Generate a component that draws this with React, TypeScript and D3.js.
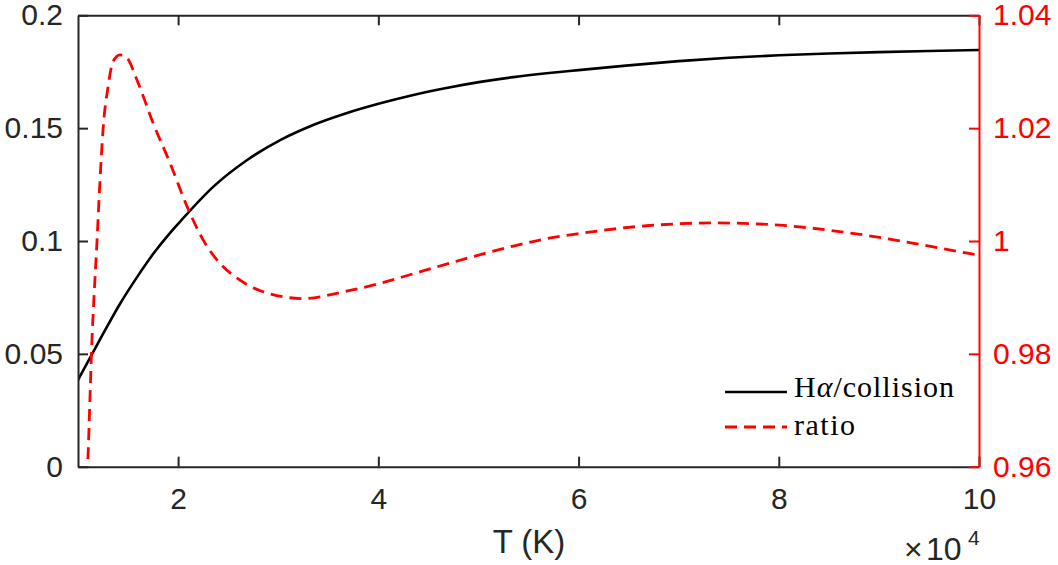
import React, { useEffect, useRef } from 'react';
import * as d3 from 'd3';

// T in units of 1e4 K
const tBlack = [1.0, 1.12, 1.25, 1.42, 1.59, 1.75, 1.92, 2.02, 2.35, 2.69, 3.02, 3.35, 3.68, 4.02, 4.35, 4.68, 5.02, 5.35, 5.68, 6.0, 6.5, 7.0, 7.5, 8.0, 8.5, 9.0, 9.5, 10.0];
const haCollision = [0.0384, 0.0482, 0.0588, 0.0722, 0.084, 0.0942, 0.1036, 0.1086, 0.124, 0.1359, 0.1447, 0.1514, 0.1566, 0.161, 0.1647, 0.1678, 0.1705, 0.1726, 0.1743, 0.1757, 0.1778, 0.1797, 0.1812, 0.1823, 0.1831, 0.1837, 0.1842, 0.1846];

const tRed = [1.09, 1.1, 1.12, 1.137, 1.16, 1.187, 1.22, 1.25, 1.3, 1.35, 1.42, 1.49, 1.59, 1.75, 1.92, 2.09, 2.25, 2.42, 2.59, 2.85, 3.25, 3.68, 4.02, 4.35, 4.68, 5.02, 5.35, 5.68, 6.0, 6.68, 7.35, 8.01, 8.68, 9.35, 9.9, 10.0];
const ratio = [0.958, 0.9618, 0.9724, 0.9813, 0.9901, 0.999, 1.0108, 1.0197, 1.0273, 1.0318, 1.033, 1.0324, 1.0285, 1.0209, 1.0138, 1.0061, 1.0002, 0.996, 0.9934, 0.991, 0.9898, 0.9911, 0.9925, 0.9942, 0.9959, 0.9976, 0.9991, 1.0004, 1.0013, 1.0027, 1.0032, 1.0028, 1.0015, 0.9996, 0.9978, 0.9975];

const xTicks = [2, 4, 6, 8, 10];
const leftTicks = [0, 0.05, 0.1, 0.15, 0.2];
const rightTicks = [0.96, 0.98, 1, 1.02, 1.04];

const W = 1058;
const H = 565;
const AXIS = '#262626';
const FONT = '"Liberation Sans", Arial, Helvetica, sans-serif';

const App: React.FC = () => {
  const ref = useRef<SVGSVGElement>(null);

  useEffect(() => {
    const svg = d3.select(ref.current);
    svg.selectAll('*').remove();

    const left = 78, right = 979, top = 15.3, bottom = 466.7;
    const x = d3.scaleLinear().domain([1, 10]).range([left, right]);
    const yL = d3.scaleLinear().domain([0, 0.2]).range([bottom, top]);
    const yR = d3.scaleLinear().domain([0.96, 1.04]).range([bottom, top]);

    svg.append('defs').append('clipPath').attr('id', 'plotclip')
      .append('rect').attr('x', left).attr('y', top).attr('width', right - left).attr('height', bottom - top);

    const styleAxis = (g: d3.Selection<SVGGElement, unknown, null, undefined>, color: string, fs: number) => {
      g.attr('color', color).attr('font-family', FONT).attr('font-size', fs);
      g.selectAll('path, line').attr('stroke-width', 2);
    };

    // curves
    const blackData = tBlack.map((t, i) => [t, haCollision[i]] as [number, number]);
    const redData = tRed.map((t, i) => [t, ratio[i]] as [number, number]);

    svg.append('path')
      .datum(blackData)
      .attr('clip-path', 'url(#plotclip)')
      .attr('fill', 'none')
      .attr('stroke', '#000')
      .attr('stroke-width', 2.6)
      .attr('d', d3.line<[number, number]>().x(d => x(d[0])).y(d => yL(d[1])).curve(d3.curveMonotoneX));

    svg.append('path')
      .datum(redData)
      .attr('clip-path', 'url(#plotclip)')
      .attr('fill', 'none')
      .attr('stroke', '#ff0000')
      .attr('stroke-width', 2.8)
      .attr('stroke-dasharray', '12 7')
      .attr('d', d3.line<[number, number]>().x(d => x(d[0])).y(d => yR(d[1])).curve(d3.curveMonotoneX));

    // top axis (ticks only)
    const gTop = svg.append('g').attr('transform', `translate(0,${top})`)
      .call(d3.axisTop(x).tickValues(xTicks).tickSizeInner(-10).tickSizeOuter(0).tickFormat(() => ''));
    styleAxis(gTop, AXIS, 30);

    // bottom axis
    const gBottom = svg.append('g').attr('transform', `translate(0,${bottom})`)
      .call(d3.axisBottom(x).tickValues(xTicks).tickSizeInner(-10).tickSizeOuter(0).tickPadding(21).tickFormat(d => String(d)));
    styleAxis(gBottom, AXIS, 30);

    // left axis
    const gLeft = svg.append('g').attr('transform', `translate(${left},0)`)
      .call(d3.axisLeft(yL).tickValues(leftTicks).tickSizeInner(-10).tickSizeOuter(0).tickPadding(15).tickFormat(d => String(d)));
    styleAxis(gLeft, AXIS, 30);

    // right axis (red)
    const gRight = svg.append('g').attr('transform', `translate(${right},0)`)
      .call(d3.axisRight(yR).tickValues(rightTicks).tickSizeInner(-10).tickSizeOuter(0).tickPadding(14).tickFormat(d => String(d)));
    styleAxis(gRight, '#ff0000', 30);

    // axis label
    svg.append('text')
      .attr('x', 529).attr('y', 553)
      .attr('text-anchor', 'middle')
      .attr('font-family', FONT).attr('font-size', 33).attr('fill', AXIS)
      .text('T (K)');

    // x10^4 multiplier
    const mult = svg.append('g').attr('font-family', FONT).attr('fill', AXIS);
    mult.append('text').attr('x', 904).attr('y', 560).attr('font-size', 32).attr('font-weight', 300).text('×');
    mult.append('text').attr('x', 926).attr('y', 560).attr('font-size', 32).text('10');
    mult.append('text').attr('x', 968).attr('y', 545).attr('font-size', 21).text('4');

    // legend
    const leg = svg.append('g').attr('font-family', '"Liberation Serif", "Times New Roman", serif').attr('font-size', 30).attr('fill', '#000');
    leg.append('line').attr('x1', 725).attr('x2', 787).attr('y1', 392).attr('y2', 392)
      .attr('stroke', '#000').attr('stroke-width', 2.6);
    leg.append('line').attr('x1', 725).attr('x2', 787).attr('y1', 427).attr('y2', 427)
      .attr('stroke', '#ff0000').attr('stroke-width', 2.8).attr('stroke-dasharray', '12 7');
    const t1 = leg.append('text').attr('x', 794).attr('y', 397).attr('textLength', 160).attr('lengthAdjust', 'spacing');
    t1.append('tspan').text('H');
    t1.append('tspan').attr('font-style', 'italic').text('α');
    t1.append('tspan').text('/collision');
    leg.append('text').attr('x', 794).attr('y', 435).attr('textLength', 61).attr('lengthAdjust', 'spacing').text('ratio');
  }, []);

  return (
    <svg
      ref={ref}
      width={W}
      height={H}
      style={{ position: 'absolute', left: 0, top: 0, background: '#fff' }}
    />
  );
};

export default App;
